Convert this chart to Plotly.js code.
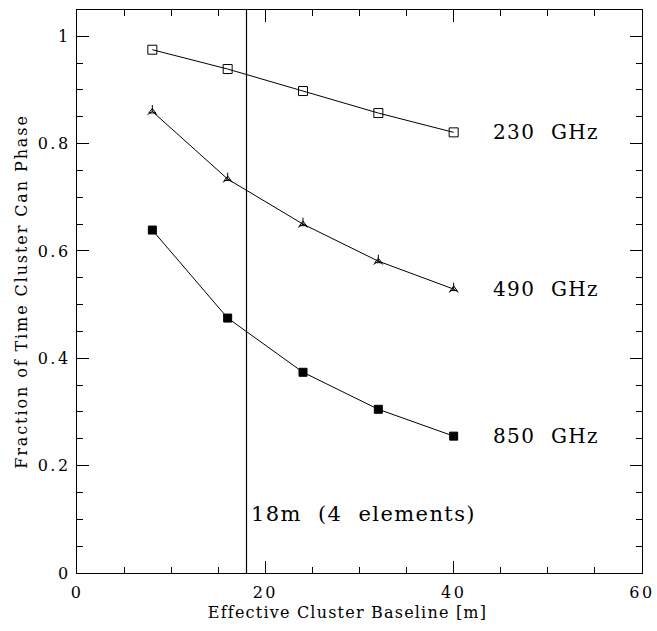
<!DOCTYPE html>
<html>
<head>
<meta charset="utf-8">
<script src="https://cdn.plot.ly/plotly-3.0.1.min.js"></script>
<style>
html,body{margin:0;padding:0;background:#fff;}
#chart{width:657px;height:631px;}
.xtitle{letter-spacing:1.2px;transform:translateX(-12px);}
.ytitle{letter-spacing:1.9px;}
.xtick text,.ytick text{letter-spacing:2.5px;}
.annotation-text{letter-spacing:1.4px;}
</style>
</head>
<body>
<div id="chart"></div>
<script>
const baselines = [8, 16, 24, 32, 40];
const frac230 = [0.975, 0.939, 0.898, 0.857, 0.821];
const frac490 = [0.860, 0.734, 0.650, 0.581, 0.529];
const frac850 = [0.639, 0.475, 0.374, 0.305, 0.255];
const seriesNames = ['230 GHz', '490 GHz', '850 GHz'];
const lineX = 18;
const lineLabel = '18m\u00a0 (4\u00a0 elements)';
const xTitle = 'Effective Cluster Baseline [m]';
const yTitle = 'Fraction of Time Cluster Can Phase';

const serif = 'DejaVu Serif, serif';
const mk = (y, sym, name, size, mode) => ({
  x: baselines, y: y, type: 'scatter', mode: mode, name: name,
  line: {color: '#000', width: 1},
  marker: {symbol: sym, size: size, color: '#000', line: {color: '#000', width: 1}},
  cliponaxis: false
});
const traces = [
  mk(frac230, 'square-open', seriesNames[0], 9, 'lines+markers'),
  mk(frac490, 'y-up', seriesNames[1], 8, 'lines+markers'),
  mk(frac490, 'triangle-up-open', seriesNames[1], 6, 'markers'),
  mk(frac850, 'square', seriesNames[2], 8, 'lines+markers')
];

const ends = [frac230[4], frac490[4], frac850[4]];
const annotations = seriesNames.map((n, i) => ({
  x: 44, y: ends[i], xref: 'x', yref: 'y', text: n.replace(' ', '\u00a0 '), showarrow: false,
  xanchor: 'left', yanchor: 'middle', font: {family: serif, size: 20, color: '#000'}
}));
annotations.push({
  x: lineX, y: 0.11, xref: 'x', yref: 'y', text: lineLabel, showarrow: false,
  xanchor: 'left', yanchor: 'middle', xshift: 2, font: {family: serif, size: 21, color: '#000'}
});

const axisCommon = {
  showgrid: false, zeroline: false, showline: true, linecolor: '#000', linewidth: 1.2,
  mirror: 'allticks', ticks: 'inside', ticklen: 12, tickwidth: 1, tickcolor: '#000',
  tickfont: {family: serif, size: 16, color: '#000'}
};
const layout = {
  width: 657, height: 631,
  margin: {l: 77, r: 15, t: 10, b: 58},
  paper_bgcolor: '#fff', plot_bgcolor: '#fff',
  showlegend: false,
  xaxis: Object.assign({}, axisCommon, {
    range: [0, 60], tickvals: [0, 20, 40, 60], ticktext: ['0', '20', '40', '60'],
    ticklabelstandoff: 5,
    minor: {dtick: 5, ticklen: 6, ticks: 'inside', tickcolor: '#000', tickwidth: 1},
    title: {text: xTitle, font: {family: serif, size: 16, color: '#000'}, standoff: 5}
  }),
  yaxis: Object.assign({}, axisCommon, {
    range: [0, 1.049], tickvals: [0, 0.2, 0.4, 0.6, 0.8, 1], ticktext: ['0', '0.2', '0.4', '0.6', '0.8', '1'],
    ticklabelstandoff: 2,
    minor: {dtick: 0.05, ticklen: 6, ticks: 'inside', tickcolor: '#000', tickwidth: 1},
    title: {text: yTitle, font: {family: serif, size: 16, color: '#000'}, standoff: 6}
  }),
  shapes: [{type: 'line', xref: 'x', yref: 'paper', x0: lineX, x1: lineX, y0: 0, y1: 1,
            line: {color: '#000', width: 1.2}}],
  annotations: annotations
};
Plotly.newPlot('chart', traces, layout, {staticPlot: true, displayModeBar: false});
</script>
</body>
</html>
